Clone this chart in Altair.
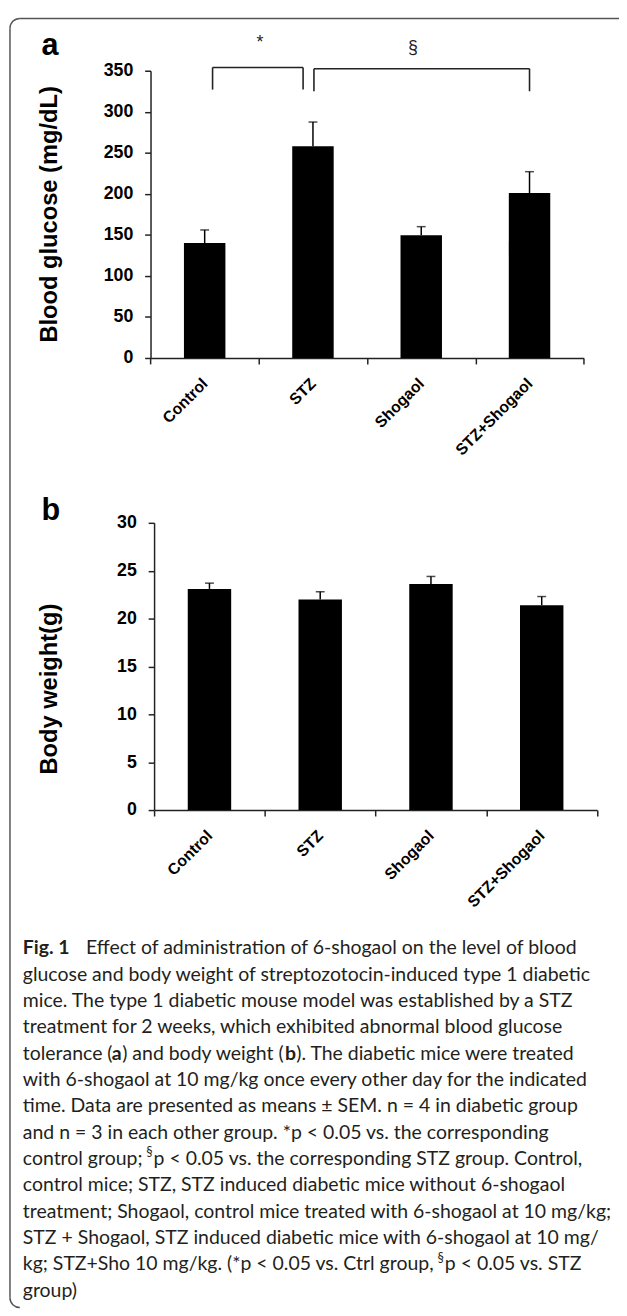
import altair as alt
import pandas as pd

# ---------------- data ----------------
groups = ["Control", "STZ", "Shogaol", "STZ+Shogaol"]
glucose_mean = [140, 258, 149.5, 201]
glucose_sem = [16, 29.5, 10.5, 26]
weight_mean = [23.1, 22.0, 23.6, 21.4]
weight_sem = [0.6, 0.8, 0.8, 0.9]
glucose_ticks = [0, 50, 100, 150, 200, 250, 300, 350]
weight_ticks = [0, 5, 10, 15, 20, 25, 30]

bracket_left = ["Control", "STZ"]
bracket_right = ["STZ", "STZ+Shogaol"]
bracket_top = [354, 352.5]
bracket_foot = [327, 325]
bracket_label = ["*", "§"]
bracket_label_group = ["Control", "Shogaol"]
bracket_label_value = [383.5, 377.5]

caption_lines = [
    [("Fig. 1", "bold"), ("Effect of administration of 6-shogaol on the level of blood", "normal")],
    [("glucose and body weight of streptozotocin-induced type 1 diabetic", "normal")],
    [("mice. The type 1 diabetic mouse model was established by a STZ", "normal")],
    [("treatment for 2 weeks, which exhibited abnormal blood glucose", "normal")],
    [("tolerance (", "normal"), ("a", "bold"), (") and body weight (", "normal"), ("b", "bold"),
     ("). The diabetic mice were treated", "normal")],
    [("with 6-shogaol at 10 mg/kg once every other day for the indicated", "normal")],
    [("time. Data are presented as means ± SEM. n = 4 in diabetic group", "normal")],
    [("and n = 3 in each other group. *p < 0.05 vs. the corresponding", "normal")],
    [("control group; ", "normal"), ("§", "super"), ("p < 0.05 vs. the corresponding STZ group. Control,", "normal")],
    [("control mice; STZ, STZ induced diabetic mice without 6-shogaol", "normal")],
    [("treatment; Shogaol, control mice treated with 6-shogaol at 10 mg/kg;", "normal")],
    [("STZ + Shogaol, STZ induced diabetic mice with 6-shogaol at 10 mg/", "normal")],
    [("kg; STZ+Sho 10 mg/kg. (*p < 0.05 vs. Ctrl group, ", "normal"), ("§", "super"), ("p < 0.05 vs. STZ", "normal")],
    [("group)", "normal")],
]

# ---------------- layout (pixels) ----------------
W, H = 619, 1308
FONT = "Liberation Sans"
CAP_FONT = "Lato"
CAP_SIZE = 19.7
caption_seg_x = [
    [15, 79],
    [15], [15], [15],
    [15, 105, 115.7, 280.7, 292],
    [15], [15], [15],
    [15, 140, 147.5],
    [15], [15], [15],
    [15, 435, 442.5],
    [15],
]
CAP_Y0, CAP_DY = 944, 26.7
bracket_offsets = [(8, -10), (1, 0)]
bracket_label_offsets = [56, -8.5]

one = pd.DataFrame({"k": [0]})


def panel(means, sems, ticks, ymax, xr, yr, bar_w, title, title_x, title_y, brackets=False):
    df = pd.DataFrame({"group": groups, "mean": means, "sem": sems})
    df["top"] = df["mean"] + df["sem"]
    xs = alt.Scale(domain=groups, range=xr, paddingInner=0, paddingOuter=0)
    ys = alt.Scale(domain=[0, ymax], range=yr, nice=False, zero=True)
    xaxis = alt.Axis(
        title=None, orient="bottom", offset=-(H - yr[0]), tickBand="extent",
        tickSize=6, tickWidth=1.5, tickColor="#222", domainColor="#222", domainWidth=1.5,
        labelAngle=-45, labelAlign="right", labelBaseline="middle",
        labelFont=FONT, labelFontSize=16, labelFontWeight="bold",
        labelColor="black", labelPadding=17,
    )
    yaxis = alt.Axis(
        title=title, orient="left", offset=-xr[0], values=ticks, grid=False,
        tickSize=6, tickWidth=1.5, tickColor="#222", domainColor="#222", domainWidth=1.5,
        labelFont=FONT, labelFontSize=18, labelFontWeight="bold", labelColor="black",
        labelPadding=12, titleFont=FONT, titleFontSize=24, titleFontWeight="bold",
        titleColor="black", titleX=title_x, titleY=title_y, titleBaseline="bottom",
        titleAngle=270,
    )
    base = alt.Chart(df)
    X = alt.X("group:N", scale=xs, axis=xaxis)
    bars = base.mark_bar(size=bar_w, color="black").encode(
        x=X, y=alt.Y("mean:Q", scale=ys, axis=yaxis)
    )
    err = base.mark_rule(color="black", strokeWidth=1.5).encode(
        x=X, y=alt.Y("mean:Q", scale=ys, axis=yaxis), y2="top:Q"
    )
    cap = base.mark_tick(orient="horizontal", size=9, thickness=1.5, color="black").encode(
        x=X, y=alt.Y("top:Q", scale=ys, axis=yaxis)
    )
    layers = [bars, err, cap]
    if brackets:
        for i in range(len(bracket_left)):
            bdf = pd.DataFrame({"l": [bracket_left[i]], "r": [bracket_right[i]],
                                "t": [bracket_top[i]], "f": [bracket_foot[i]],
                                "g": [bracket_label_group[i]], "v": [bracket_label_value[i]],
                                "lab": [bracket_label[i]]})
            ol, orr = bracket_offsets[i]
            bb = alt.Chart(bdf)
            layers.append(bb.mark_rule(color="#222", strokeWidth=1.6, xOffset=ol, x2Offset=orr).encode(
                x=alt.X("l:N", scale=xs, axis=xaxis), x2="r:N",
                y=alt.Y("t:Q", scale=ys, axis=yaxis)))
            layers.append(bb.mark_rule(color="#222", strokeWidth=1.6, xOffset=ol).encode(
                x=alt.X("l:N", scale=xs, axis=xaxis),
                y=alt.Y("f:Q", scale=ys, axis=yaxis), y2="t:Q"))
            layers.append(bb.mark_rule(color="#222", strokeWidth=1.6, xOffset=orr).encode(
                x=alt.X("r:N", scale=xs, axis=xaxis),
                y=alt.Y("f:Q", scale=ys, axis=yaxis), y2="t:Q"))
            layers.append(bb.mark_text(font="Liberation Sans", fontSize=18, color="#222",
                                       baseline="middle", align="center",
                                       xOffset=bracket_label_offsets[i]).encode(
                x=alt.X("g:N", scale=xs, axis=xaxis),
                y=alt.Y("v:Q", scale=ys, axis=yaxis), text="lab:N"))
    return alt.layer(*layers)


panel_a = panel(glucose_mean, glucose_sem, glucose_ticks, 350, [144.4, 583.2], [346, 55], 42,
                "Blood glucose (mg/dL)", -90, 200, brackets=True)
panel_b = panel(weight_mean, weight_sem, weight_ticks, 30, [148, 596.8], [804, 513], 44,
                "Body weight(g)", -94, 681)

extras = []
for letter, px, py in [("a", 42.5, 30.5), ("b", 43.5, 501)]:
    extras.append(alt.Chart(one).mark_text(font=FONT, fontSize=31, fontWeight="bold", color="black",
                                           align="center", baseline="middle").encode(
        x=alt.value(px), y=alt.value(py), text=alt.value(letter)))

for i, segs in enumerate(caption_lines):
    y = CAP_Y0 + i * CAP_DY
    for (txt, style), sx in zip(segs, caption_seg_x[i]):
        size = CAP_SIZE if style != "super" else 13
        yy = y if style != "super" else y - 7
        weight = "bold" if style == "bold" else "normal"
        extras.append(alt.Chart(one).mark_text(font=CAP_FONT, fontSize=size, fontWeight=weight,
                                               color="#231f20", align="left", baseline="middle").encode(
            x=alt.value(sx), y=alt.value(yy), text=alt.value(txt)))

# frame: only the top and left edges with rounded corners (the rest lies outside the picture)
FX, FY, FR = 2, 2, 10
FSTYLE = dict(color="#555", strokeWidth=1.5)
frame_top = alt.Chart(one).mark_rule(**FSTYLE).encode(
    x=alt.value(FX + FR), x2=alt.value(W), y=alt.value(FY))
frame_left = alt.Chart(one).mark_rule(**FSTYLE).encode(
    x=alt.value(FX), y=alt.value(FY + FR), y2=alt.value(H - FR))
corner_tl = alt.Chart(one).mark_arc(
    stroke="#555", strokeWidth=1.5, fillOpacity=0, radius=FR, radius2=FR,
    theta=4.71239, theta2=6.28319,
).encode(x=alt.value(FX + FR), y=alt.value(FY + FR))
corner_bl = alt.Chart(one).mark_arc(
    stroke="#555", strokeWidth=1.5, fillOpacity=0, radius=FR, radius2=FR,
    theta=3.14159, theta2=4.71239,
).encode(x=alt.value(FX + FR), y=alt.value(H - FR))

chart = alt.layer(frame_top, frame_left, corner_tl, corner_bl, panel_a, panel_b, *extras).resolve_scale(
    x="independent", y="independent"
).properties(
    width=W, height=H, padding=0, background="white",
    autosize=alt.AutoSizeParams(type="none"),
).configure_view(stroke=None)

chart.save("out.html", embed_options={"renderer": "svg", "actions": False})
